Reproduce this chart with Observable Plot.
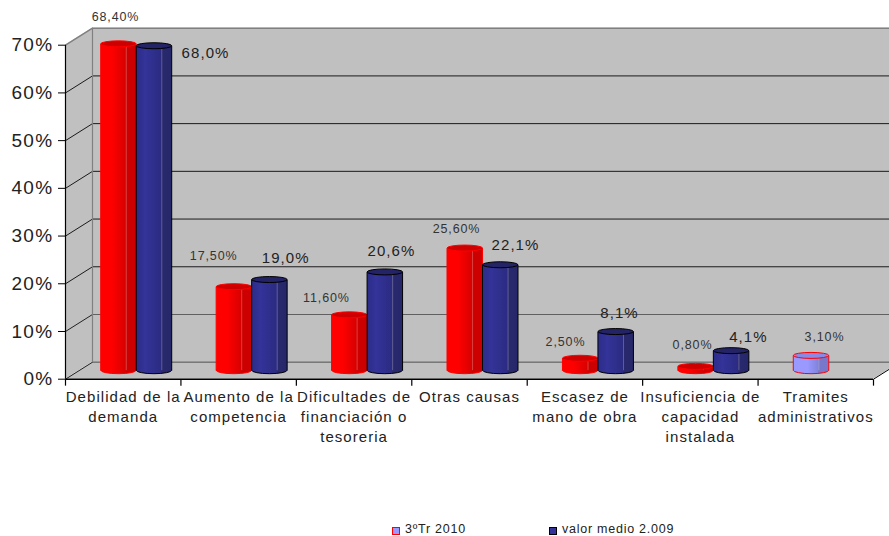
<!DOCTYPE html>
<html><head><meta charset="utf-8">
<script src="https://cdn.jsdelivr.net/npm/d3@7"></script>
<script src="https://cdn.jsdelivr.net/npm/@observablehq/plot@0.6"></script>
<style>
html,body{margin:0;padding:0;background:#fff;overflow:hidden}
svg text{letter-spacing:.07em}
#chart{height:520px}
#chart svg{display:block}
#legend{position:relative;height:16px;font:12.5px "Liberation Sans",Arial,sans-serif;color:#222;letter-spacing:.06em}
#legend span{position:absolute;top:3px;line-height:13px;height:13px;white-space:nowrap}
#legend i{position:absolute;top:7px;width:6px;height:6px;display:block}
</style></head><body>
<div id="chart"></div>
<div id="legend">
  <i style="left:392px;background:#9999ff;border:1px solid #f00"></i><span style="left:405px">3ºTr 2010</span>
  <i style="left:549px;background:#333399;border:1px solid #000"></i><span style="left:562px">valor medio 2.009</span>
</div>
<script>
const categories = ["Debilidad de la\ndemanda","Aumento de la\ncompetencia","Dificultades de\nfinanciación o\ntesoreria","Otras causas","Escasez de\nmano de obra","Insuficiencia de\ncapacidad\ninstalada","Tramites\nadministrativos"];
const tr2010 = [68.4,17.5,11.6,25.6,2.5,0.8,3.1];
const medio2009 = [68.0,19.0,20.6,22.1,8.1,4.1,null];
const tr2010Labels = ["68,40%","17,50%","11,60%","25,60%","2,50%","0,80%","3,10%"];
const medio2009Labels = ["68,0%","19,0%","20,6%","22,1%","8,1%","4,1%",""];
const yTicks = [0,10,20,30,40,50,60,70];

// layout only
const W=889,H=520,ML=65,MR=16,MT=44.7,MB=H-378.7;
const catW=(W-ML-MR)/categories.length, unitPx=(H-MT-MB)/70;
const dX=27,dY=-17;                 // full depth of the 3D box, px
const depthX=dX/catW, depthY=-dY/unitPx;
const barDx=13.5,barDy=-8.5,half=35.5/catW;
const nudgeRed=[[-7.7,-35.4],[-25,-40],[-27.6,-25.4],[-13,-27.6],[-19.4,-24.8],[-7.9,-29.9],[8.7,-27.9]];
const nudgeBlue=[[82.3,-1.3],[47,-30],[37.4,-29.4],[46,-28.3],[34.6,-27],[48,-22]];

const redRows=tr2010.map((v,i)=>({i,v,x1:i+.5-half,x2:i+.5,odd:i===6}));
const blueRows=medio2009.map((v,i)=>({i,v,x1:i+.5,x2:i+.5+half})).filter(d=>d.v!=null);

const grad=(id,stops)=>`<linearGradient id="${id}">`+stops.map(([o,c])=>`<stop offset="${o}" stop-color="${c}"/>`).join("")+`</linearGradient>`;
const defs=()=>{const g=document.createElementNS("http://www.w3.org/2000/svg","defs");
  g.innerHTML=grad("gRed",[[0,"#ff0000"],[.3,"#ff0000"],[.7,"#d80000"],[.71,"#cc0000"],[1,"#cc0000"]])
   +grad("gBlue",[[0,"#2c2c88"],[.25,"#333399"],[.7,"#2b2b82"],[.71,"#29296f"],[1,"#26266a"]])
   +grad("gLav",[[0,"#9999ff"],[.4,"#9999ff"],[.7,"#8282dd"],[.71,"#7777cc"],[1,"#7777cc"]]);return g;};

function cylinder(rows,bodyFill,topFill,stroke){
  const common={dx:barDx,dy:barDy,x1:"x1",x2:"x2"};
  const rx=half*catW/2, ry=3.5, topRy=3;
  return [
    Plot.rect(rows,{...common,y1:0,y2:0,insetTop:-ry,insetBottom:-ry,rx,ry,fill:bodyFill,stroke}),
    Plot.rect(rows,{...common,y1:0,y2:"v",fill:bodyFill}),
    Plot.ruleX(rows,{x:"x1",y1:0,y2:"v",dx:barDx-.5,dy:barDy,stroke}),
    Plot.ruleX(rows,{x:"x2",y1:0,y2:"v",dx:barDx-.5,dy:barDy,stroke}),
    Plot.ruleX(rows,{x:d=>d.x1+(d.x2-d.x1)*.72,y1:0,y2:"v",dx:barDx-.5,dy:barDy,stroke:"#fff",strokeOpacity:.25}),
    Plot.rect(rows,{...common,y1:"v",y2:"v",insetTop:-topRy,insetBottom:-topRy,rx,ry:topRy,fill:topFill,stroke})
  ];
}
const dark=yTicks.filter(v=>v>=20&&v<70), light=yTicks.filter(v=>v<20);
const fmtTick=d=>d+"%";

const chart=Plot.plot({
  width:W,height:H,marginLeft:ML,marginRight:MR,marginTop:MT,marginBottom:MB,
  style:{fontFamily:'"Liberation Sans",Arial,sans-serif',background:"#fff"},
  x:{domain:[0,categories.length],axis:null},
  y:{domain:[0,70],axis:null},
  marks:[
    defs,
    // back wall
    Plot.rect([0],{x1:0,x2:categories.length,y1:0,y2:70,dx:dX,dy:dY,fill:"#c0c0c0"}),
    // side wall and floor
    Plot.area([0,depthX],{x1:d=>d,y1:d=>d?depthY:0,y2:d=>d?70+depthY:70,fill:"#c0c0c0"}),
    Plot.area([0,depthX,categories.length,categories.length+depthX],{x1:d=>d,
      y1:(d,i)=>i===3?depthY:0,y2:(d,i)=>i===0?0:depthY,fill:"#c0c0c0"}),
    // gridlines
    Plot.ruleY(dark,{y:d=>d,dx:dX,dy:dY,stroke:"#1a1a1a"}),
    Plot.ruleY(light,{y:d=>d,dx:dX,dy:dY,stroke:"#606060",strokeWidth:1.2}),
    Plot.ruleY([70],{y:d=>d,dx:dX,dy:dY,stroke:"#808080",strokeWidth:1.5}),
    Plot.link(dark,{x1:0,x2:depthX,y1:d=>d,y2:d=>d+depthY,stroke:"#1a1a1a"}),
    Plot.link(light,{x1:0,x2:depthX,y1:d=>d,y2:d=>d+depthY,stroke:"#222"}),
    Plot.link([70],{x1:0,x2:depthX,y1:d=>d,y2:d=>d+depthY,stroke:"#808080",strokeWidth:1.5}),
    Plot.ruleX([depthX],{x:d=>d,y1:depthY,y2:70+depthY,stroke:"#808080",strokeWidth:1.2}),
    // cylinders
    ...cylinder(redRows.filter(d=>!d.odd),"url(#gRed)","#cc0000","#ff0000"),
    ...cylinder(redRows.filter(d=>d.odd),"url(#gLav)","#8a8ae6","#ff0000"),
    ...cylinder(blueRows,"url(#gBlue)","#232366","#000"),
    // axes
    Plot.ruleX([0],{x:d=>d,y1:0,y2:70,stroke:"#000",strokeWidth:1.2}),
    Plot.ruleY([0],{y:d=>d,stroke:"#000",strokeWidth:1.6}),
    Plot.link([categories.length],{x1:d=>d,x2:d=>d+depthX,y1:0,y2:depthY,stroke:"#000"}),
    Plot.axisY({ticks:yTicks,tickFormat:fmtTick,label:null,tickSize:7,tickPadding:5,stroke:"#000",fontSize:19,fill:"#222"}),
    Plot.link(d3.range(categories.length+1),{x1:d=>d,x2:d=>d,y1:0,y2:-1.35,stroke:"#000",strokeWidth:1.2}),
    Plot.text(categories,{x:(d,i)=>i+.5,y:0,text:d=>d,dy:8.5,lineAnchor:"top",lineHeight:1.33,fontSize:15,fill:"#222"}),
    // data labels
    ...tr2010Labels.map((t,i)=>Plot.text([t],{x:i+.5,y:tr2010[i],text:d=>d,dx:nudgeRed[i][0],dy:nudgeRed[i][1],fontSize:12.5,fill:"#333"})),
    ...medio2009Labels.slice(0,6).map((t,i)=>Plot.text([t],{x:i+.5,y:medio2009[i],text:d=>d,dx:nudgeBlue[i][0],dy:nudgeBlue[i][1],fontSize:15,fill:"#222"}))
  ]
});
document.getElementById("chart").append(chart);
</script></body></html>
